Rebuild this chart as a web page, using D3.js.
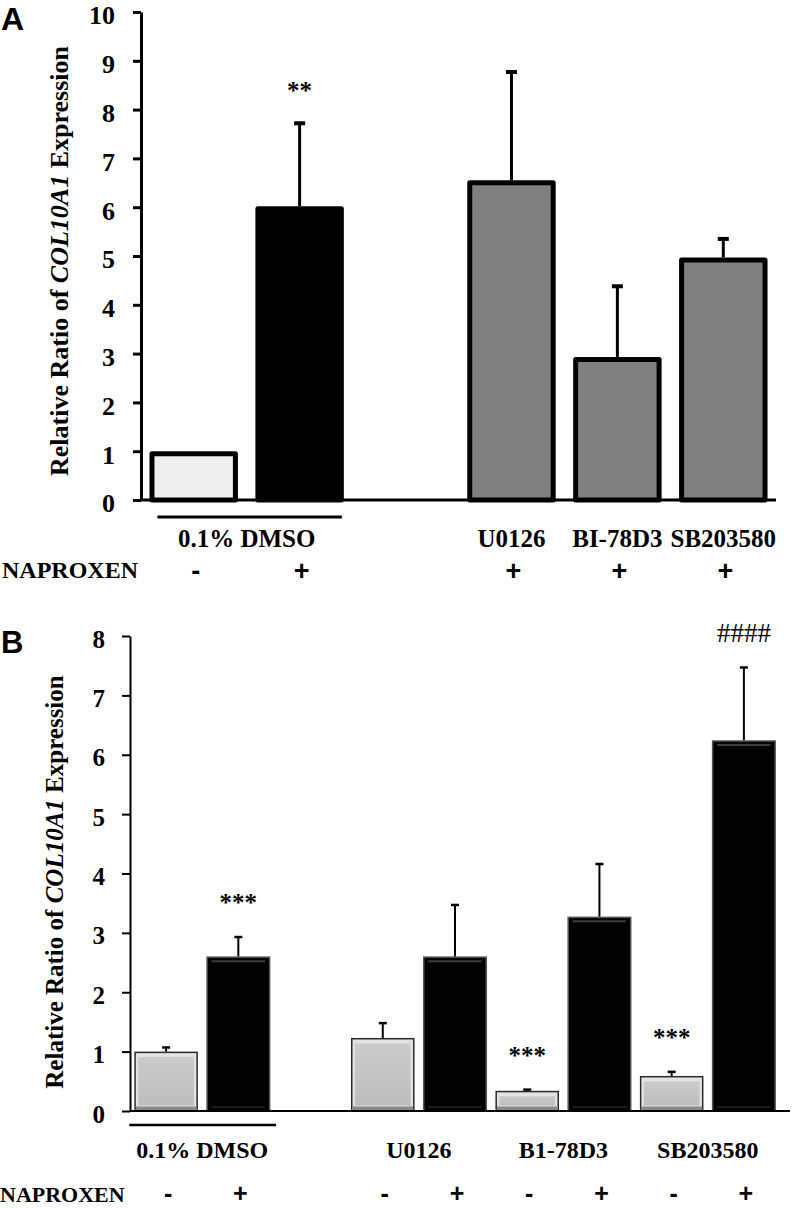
<!DOCTYPE html>
<html><head><meta charset="utf-8">
<script src="https://cdn.jsdelivr.net/npm/d3@7"></script>
<style>body{margin:0;background:#fff} svg{display:block}</style>
</head><body>
<svg id="c" width="792" height="1208"></svg>
<script>
// ---------- Panel A data ----------
const aCategories = ["DMSO-", "DMSO+", "gap", "U0126", "BI-78D3", "SB203580"];
const aBarCats    = ["DMSO-", "DMSO+", "U0126", "BI-78D3", "SB203580"];
const aValues     = [1.0, 6.02, 6.55, 2.93, 4.97];
const aErrors     = [0, 1.70, 2.22, 1.45, 0.38];
const aFills      = ["#efefef", "#000000", "#808080", "#808080", "#808080"];
const aNaproxen   = ["-", "+", "+", "+", "+"];
const aGroupLabels = ["U0126", "BI-78D3", "SB203580"];
const aTicks      = [0, 1, 2, 3, 4, 5, 6, 7, 8, 9, 10];
const aAnnotations = [{cat: "DMSO+", text: "**"}];

// ---------- Panel B data ----------
const bCategories = ["DMSO-", "DMSO+", "gap", "U0126-", "U0126+", "B1-", "B1+", "SB-", "SB+"];
const bBarCats    = ["DMSO-", "DMSO+", "U0126-", "U0126+", "B1-", "B1+", "SB-", "SB+"];
const bValues     = [1.0, 2.6, 1.23, 2.6, 0.34, 3.27, 0.59, 6.24];
const bErrors     = [0.07, 0.33, 0.25, 0.87, 0.02, 0.89, 0.07, 1.23];
const bNaproxen   = ["-", "+", "-", "+", "-", "+", "-", "+"];
const bGroups     = [["U0126-", "U0126+", "U0126"], ["B1-", "B1+", "B1-78D3"], ["SB-", "SB+", "SB203580"]];
const bTicks      = [0, 1, 2, 3, 4, 5, 6, 7, 8];
const bAnnotations = [
  {cat: "DMSO+", text: "***"}, {cat: "B1-", text: "***"},
  {cat: "SB-", text: "***"}, {cat: "SB+", text: "####"}
];

const SERIF = "'Liberation Serif','Times New Roman',serif";
const SANS = "'Liberation Sans',Arial,sans-serif";
const svg = d3.select("#c");

// ================= PANEL A =================
(function () {
  const y = d3.scaleLinear().domain([0, 10]).range([500, 12]);
  const x = d3.scaleBand().domain(aCategories).range([141, 776]).paddingInner(0.165).paddingOuter(0.08);
  const g = svg.append("g");
  const bw = x.bandwidth(), sw = 5;

  aBarCats.forEach((c, i) => {
    if (!aErrors[i]) return;
    const cx = x(c) + bw / 2;
    g.append("line").attr("x1", cx).attr("x2", cx).attr("y1", y(aValues[i])).attr("y2", y(aValues[i] + aErrors[i]))
      .attr("stroke", "#000").attr("stroke-width", 3);
    g.append("line").attr("x1", cx - 5.5).attr("x2", cx + 5.5).attr("y1", y(aValues[i] + aErrors[i])).attr("y2", y(aValues[i] + aErrors[i]))
      .attr("stroke", "#000").attr("stroke-width", 4);
  });
  aBarCats.forEach((c, i) => {
    g.append("rect").attr("x", x(c) + sw / 2).attr("width", bw - sw)
      .attr("y", y(aValues[i]) + sw / 2).attr("height", y(0) - y(aValues[i]) - sw / 2)
      .attr("fill", aFills[i]).attr("stroke", "#000").attr("stroke-width", sw).attr("stroke-linejoin", "round");
  });

  const ax = g.append("g").attr("transform", "translate(141,0)")
    .call(d3.axisLeft(y).tickValues(aTicks).tickSize(8).tickSizeOuter(0).tickPadding(18));
  ax.select(".domain").attr("stroke-width", 3);
  ax.selectAll(".tick line").attr("stroke-width", 3);
  ax.selectAll(".tick text").attr("font-family", SERIF).attr("font-weight", "bold").attr("font-size", 26)
    .attr("dy", "0.46em").attr("fill", "#000");
  g.append("line").attr("x1", 141).attr("x2", 776).attr("y1", y(0)).attr("y2", y(0)).attr("stroke", "#000").attr("stroke-width", 3);

  aAnnotations.forEach(a => {
    const i = aBarCats.indexOf(a.cat);
    g.append("text").attr("x", x(a.cat) + bw / 2).attr("y", y(aValues[i] + aErrors[i]) - 24)
      .attr("text-anchor", "middle").attr("font-family", SERIF).attr("font-weight", "bold").attr("font-size", 25).text(a.text);
  });

  const t = g.append("text").attr("transform", "translate(68,261) rotate(-90)").attr("text-anchor", "middle")
    .attr("font-family", SERIF).attr("font-weight", "bold").attr("font-size", 26);
  t.append("tspan").text("Relative Ratio of ");
  t.append("tspan").attr("font-style", "italic").text("COL10A1");
  t.append("tspan").text(" Expression");

  const c0 = x("DMSO-") + bw / 2, c1 = x("DMSO+") + bw / 2;
  g.append("line").attr("x1", x("DMSO-") + 8).attr("x2", x("DMSO+") + bw - 2).attr("y1", 517).attr("y2", 517)
    .attr("stroke", "#000").attr("stroke-width", 3);
  g.append("text").attr("x", (c0 + c1) / 2).attr("y", 547).attr("text-anchor", "middle")
    .attr("font-family", SERIF).attr("font-weight", "bold").attr("font-size", 25).text("0.1% DMSO");
  aGroupLabels.forEach(l => {
    g.append("text").attr("x", x(l) + bw / 2).attr("y", 547).attr("text-anchor", "middle")
      .attr("font-family", SERIF).attr("font-weight", "bold").attr("font-size", 25).text(l);
  });
  g.append("text").attr("x", 2).attr("y", 578).attr("font-family", SERIF).attr("font-weight", "bold").attr("font-size", 24).text("NAPROXEN");
  aBarCats.forEach((c, i) => {
    g.append("text").attr("x", x(c) + bw / 2 + 2).attr("y", 580).attr("text-anchor", "middle")
      .attr("font-family", SANS).attr("font-weight", "bold").attr("font-size", 27).text(aNaproxen[i]);
  });
  g.append("text").attr("x", 1).attr("y", 30).attr("font-family", SANS).attr("font-weight", "bold").attr("font-size", 32).text("A");
})();

// ================= PANEL B =================
(function () {
  const y = d3.scaleLinear().domain([0, 8]).range([1111, 636]);
  const x = d3.scaleBand().domain(bCategories).range([130, 780]).paddingInner(0.12).paddingOuter(0.06);
  const g = svg.append("g");
  const bw = x.bandwidth();

  const defs = svg.append("defs");
  const lg = defs.append("linearGradient").attr("id", "lightGrad").attr("x1", 0).attr("y1", 0).attr("x2", 0).attr("y2", 1);
  lg.append("stop").attr("offset", "0%").attr("stop-color", "#cbcbcb");
  lg.append("stop").attr("offset", "100%").attr("stop-color", "#bdbdbd");

  bBarCats.forEach((c, i) => {
    const cx = x(c) + bw / 2, top = y(bValues[i] + bErrors[i]);
    g.append("line").attr("x1", cx).attr("x2", cx).attr("y1", y(bValues[i])).attr("y2", top)
      .attr("stroke", "#000").attr("stroke-width", 2);
    g.append("line").attr("x1", cx - 4).attr("x2", cx + 4).attr("y1", top).attr("y2", top)
      .attr("stroke", "#000").attr("stroke-width", 2.5);
  });
  bBarCats.forEach((c, i) => {
    const x0 = x(c), y0 = y(bValues[i]), h = y(0) - y0;
    const isPlus = bNaproxen[i] === "+";
    if (isPlus) {
      g.append("rect").attr("x", x0 + 0.5).attr("y", y0 + 0.5).attr("width", bw - 1).attr("height", h - 0.5)
        .attr("fill", "#020202").attr("stroke", "#555").attr("stroke-width", 1.5);
      g.append("line").attr("x1", x0 + 5).attr("x2", x0 + bw - 5).attr("y1", y0 + 4.5).attr("y2", y0 + 4.5)
        .attr("stroke", "#3c3c3c").attr("stroke-width", 2);
      g.append("line").attr("x1", x0 + 5).attr("x2", x0 + bw - 5).attr("y1", y(0) - 4).attr("y2", y(0) - 4)
        .attr("stroke", "#1a1a1a").attr("stroke-width", 2);
    } else {
      g.append("rect").attr("x", x0 + 0.75).attr("y", y0 + 0.75).attr("width", bw - 1.5).attr("height", h - 0.75)
        .attr("fill", "#e2e2e2").attr("stroke", "#2a2a2a").attr("stroke-width", 1.5);
      const ins = Math.min(4, (h - 2) / 3);
      g.append("rect").attr("x", x0 + 1.5).attr("y", y(0) - ins - 0.5).attr("width", bw - 3).attr("height", ins)
        .attr("fill", "#8a8a8a");
      g.append("rect").attr("x", x0 + 4).attr("y", y0 + 1.5 + ins).attr("width", bw - 8).attr("height", Math.max(0, h - 2 * ins - 3))
        .attr("fill", "url(#lightGrad)");
    }
  });

  const ax = g.append("g").attr("transform", "translate(130,0)")
    .call(d3.axisLeft(y).tickValues(bTicks).tickSize(8).tickSizeOuter(0).tickPadding(17));
  ax.select(".domain").attr("stroke-width", 2);
  ax.selectAll(".tick line").attr("stroke-width", 2);
  ax.selectAll(".tick text").attr("font-family", SERIF).attr("font-weight", "bold").attr("font-size", 25)
    .attr("dy", "0.44em").attr("fill", "#000");
  g.append("line").attr("x1", 130).attr("x2", 790).attr("y1", y(0)).attr("y2", y(0)).attr("stroke", "#000").attr("stroke-width", 2);

  bAnnotations.forEach(a => {
    const i = bBarCats.indexOf(a.cat);
    const hash = a.text.startsWith("#");
    g.append("text").attr("x", x(a.cat) + bw / 2).attr("y", y(bValues[i] + bErrors[i]) - (hash ? 25 : 26))
      .attr("text-anchor", "middle").attr("font-family", SERIF).attr("font-weight", hash ? "normal" : "bold")
      .attr("font-size", hash ? 27 : 25).text(a.text);
  });

  const t = g.append("text").attr("transform", "translate(63,882) rotate(-90)").attr("text-anchor", "middle")
    .attr("font-family", SERIF).attr("font-weight", "bold").attr("font-size", 25);
  t.append("tspan").text("Relative Ratio of ");
  t.append("tspan").attr("font-style", "italic").text("COL10A1");
  t.append("tspan").text(" Expression");

  const c0 = x("DMSO-") + bw / 2, c1 = x("DMSO+") + bw / 2;
  g.append("line").attr("x1", x("DMSO-") - 5).attr("x2", x("DMSO+") + bw + 6).attr("y1", 1125).attr("y2", 1125)
    .attr("stroke", "#000").attr("stroke-width", 2.5);
  g.append("text").attr("x", (c0 + c1) / 2).attr("y", 1158).attr("text-anchor", "middle")
    .attr("font-family", SERIF).attr("font-weight", "bold").attr("font-size", 24).text("0.1% DMSO");
  bGroups.forEach(([a, b, l]) => {
    g.append("text").attr("x", (x(a) + x(b) + bw) / 2).attr("y", 1158).attr("text-anchor", "middle")
      .attr("font-family", SERIF).attr("font-weight", "bold").attr("font-size", 24).text(l);
  });
  g.append("text").attr("x", 0).attr("y", 1202).attr("font-family", SERIF).attr("font-weight", "bold").attr("font-size", 22).text("NAPROXEN");
  bBarCats.forEach((c, i) => {
    g.append("text").attr("x", x(c) + bw / 2 + 2).attr("y", 1202).attr("text-anchor", "middle")
      .attr("font-family", SANS).attr("font-weight", "bold").attr("font-size", 25).text(bNaproxen[i]);
  });
  g.append("text").attr("x", 1).attr("y", 653).attr("font-family", SANS).attr("font-weight", "bold").attr("font-size", 31).text("B");
})();
</script>
</body></html>
